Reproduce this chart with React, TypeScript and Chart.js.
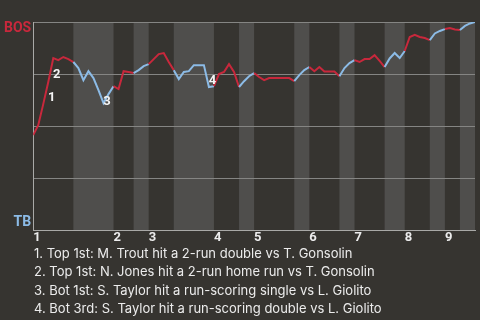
import React, { useEffect, useRef } from 'react';
import { Chart, registerables } from 'chart.js';

Chart.register(...registerables);

// ---- data ----
const awayTeam = 'BOS';
const homeTeam = 'TB';
// plate appearances in each half-inning (top 1, bottom 1, top 2, ...)
const halfInningPAs = [8, 8, 4, 3, 5, 8, 5, 3, 8, 3, 6, 3, 6, 4, 5, 3, 3, 3];
const inningLabels = ['1', '2', '3', '4', '5', '6', '7', '8', '9'];
// BOS win probability after each plate appearance (index 0 = first pitch)
const winProb = [
  0.457,
  0.505, 0.606, 0.712, 0.827, 0.817, 0.832, 0.822, 0.808,
  0.779, 0.721, 0.764, 0.731, 0.673, 0.611, 0.654, 0.692,
  0.678, 0.764, 0.760, 0.755,
  0.769, 0.788, 0.798,
  0.822, 0.846, 0.851, 0.808, 0.769,
  0.726, 0.760, 0.764, 0.793, 0.793, 0.793, 0.688, 0.692,
  0.750, 0.760, 0.798, 0.760, 0.688,
  0.716, 0.740, 0.755,
  0.736, 0.721, 0.731, 0.731, 0.731, 0.731, 0.731, 0.716,
  0.745, 0.769, 0.784,
  0.764, 0.784, 0.762, 0.762, 0.762, 0.740,
  0.779, 0.803, 0.817,
  0.808, 0.822, 0.822, 0.841, 0.813, 0.784,
  0.825, 0.851, 0.827, 0.861,
  0.928, 0.938, 0.928, 0.923, 0.913,
  0.945, 0.957, 0.966,
  0.971, 0.964, 0.962,
  0.981, 0.993, 1.0,
];
const eventIndex = [3, 4, 14, 35];
const eventLabels = ['1', '2', '3', '4'];
const eventNotes = [
  '1. Top 1st: M. Trout hit a 2-run double vs T. Gonsolin',
  '2. Top 1st: N. Jones hit a 2-run home run vs T. Gonsolin',
  '3. Bot 1st: S. Taylor hit a run-scoring single vs L. Giolito',
  '4. Bot 3rd: S. Taylor hit a run-scoring double vs L. Giolito',
];

// ---- styles ----
const BG = '#363430';
const BAND = '#4f4e4c';
const GRID = '#858583';
const AXIS = '#a9a9a7';
const RED = '#c8283c';
const BLUE = '#8cbbe6';
const TEXT = '#ececec';
const FONT = 'Roboto';
const NOTE_FONT = 'Inter';

const bounds: number[] = [0];
halfInningPAs.forEach((n) => bounds.push(bounds[bounds.length - 1] + n));
const totalPAs = bounds[bounds.length - 1];
const inningStarts = bounds.filter((_, k) => k % 2 === 0 && k < bounds.length - 1);

function isBottomHalf(idx: number): boolean {
  for (let k = 0; k < bounds.length - 1; k++) {
    if (idx > bounds[k] && idx <= bounds[k + 1]) return k % 2 === 1;
  }
  return false;
}

const bandPlugin = {
  id: 'bands',
  beforeDraw(chart: any) {
    const { ctx, chartArea, scales } = chart;
    const xs = scales.x;
    ctx.save();
    for (let k = 1; k < bounds.length - 1; k += 2) {
      const x0 = xs.getPixelForValue(bounds[k]);
      const x1 = xs.getPixelForValue(bounds[k + 1]);
      ctx.fillStyle = BAND;
      ctx.fillRect(x0, chartArea.top, x1 - x0, chartArea.bottom - chartArea.top);
    }
    ctx.restore();
  },
};

const eventPlugin = {
  id: 'events',
  afterDatasetsDraw(chart: any) {
    const { ctx } = chart;
    const meta = chart.getDatasetMeta(0);
    ctx.save();
    ctx.font = `bold 13px ${FONT}`;
    ctx.fillStyle = '#f4f4f4';
    ctx.textAlign = 'center';
    ctx.textBaseline = 'middle';
    eventIndex.forEach((idx, j) => {
      const a = meta.data[idx - 1];
      const b = meta.data[idx];
      const mx = (a.x + b.x) / 2 + 6;
      const my = (a.y + b.y) / 2 + 5;
      ctx.fillText(eventLabels[j], mx, my);
    });
    ctx.restore();
  },
};

export default function App() {
  const ref = useRef<HTMLCanvasElement | null>(null);

  useEffect(() => {
    document.body.style.margin = '0';
    const chart = new Chart(ref.current as HTMLCanvasElement, {
      type: 'line',
      data: {
        datasets: [
          {
            data: winProb.map((p, i) => ({ x: i, y: p })),
            borderWidth: 2,
            pointRadius: 0,
            tension: 0,
            borderColor: RED,
            segment: {
              borderColor: (c: any) => (isBottomHalf(c.p1DataIndex) ? BLUE : RED),
            },
          },
        ],
      },
      options: {
        animation: false,
        responsive: true,
        maintainAspectRatio: false,
        layout: { padding: { left: 2, right: 5, top: 22, bottom: 4 } },
        plugins: { legend: { display: false }, tooltip: { enabled: false } },
        scales: {
          x: {
            type: 'linear',
            min: 0,
            max: totalPAs,
            grid: { display: false, drawTicks: false },
            border: { display: true, color: AXIS, width: 1 },
            afterBuildTicks: (s: any) => {
              s.ticks = inningStarts.map((v) => ({ value: v }));
            },
            ticks: {
              autoSkip: false,
              maxRotation: 0,
              align: 'start',
              padding: 0,
              color: TEXT,
              font: { family: FONT, size: 13, weight: 'bold' },
              callback: (_v: any, i: number) => inningLabels[i],
            },
          },
          y: {
            min: 0,
            max: 1,
            weight: 0,
            ticks: { display: false, stepSize: 0.25 },
            grid: { color: GRID, drawTicks: false, lineWidth: 1 },
            border: { display: true, color: AXIS, width: 1 },
          },
          yl: {
            position: 'left',
            min: 0,
            max: 1,
            weight: 1,
            grid: { display: false, drawTicks: false },
            border: { display: false },
            afterBuildTicks: (s: any) => {
              s.ticks = [{ value: 0.04 }, { value: 0.971 }];
            },
            ticks: {
              autoSkip: false,
              padding: 2,
              font: { family: FONT, size: 14, weight: 'bold' },
              color: (c: any) => (c.tick && c.tick.value > 0.5 ? RED : BLUE),
              callback: (v: any) => (v > 0.5 ? awayTeam : homeTeam),
            },
          },
        },
      },
      plugins: [bandPlugin, eventPlugin],
    } as any);
    return () => chart.destroy();
  }, []);

  return (
    <div
      style={{
        position: 'absolute',
        left: 0,
        top: 0,
        width: 480,
        height: 320,
        background: BG,
        overflow: 'hidden',
      }}
    >
      <div style={{ position: 'absolute', left: 0, top: 0, width: 480, height: 250 }}>
        <canvas ref={ref} />
      </div>
      <div
        style={{
          position: 'absolute',
          left: 34,
          top: 244,
          fontFamily: NOTE_FONT,
          fontSize: 13,
          lineHeight: '18.33px',
          color: TEXT,
          whiteSpace: 'nowrap',
        }}
      >
        {eventNotes.map((t) => (
          <div key={t}>{t}</div>
        ))}
      </div>
    </div>
  );
}
